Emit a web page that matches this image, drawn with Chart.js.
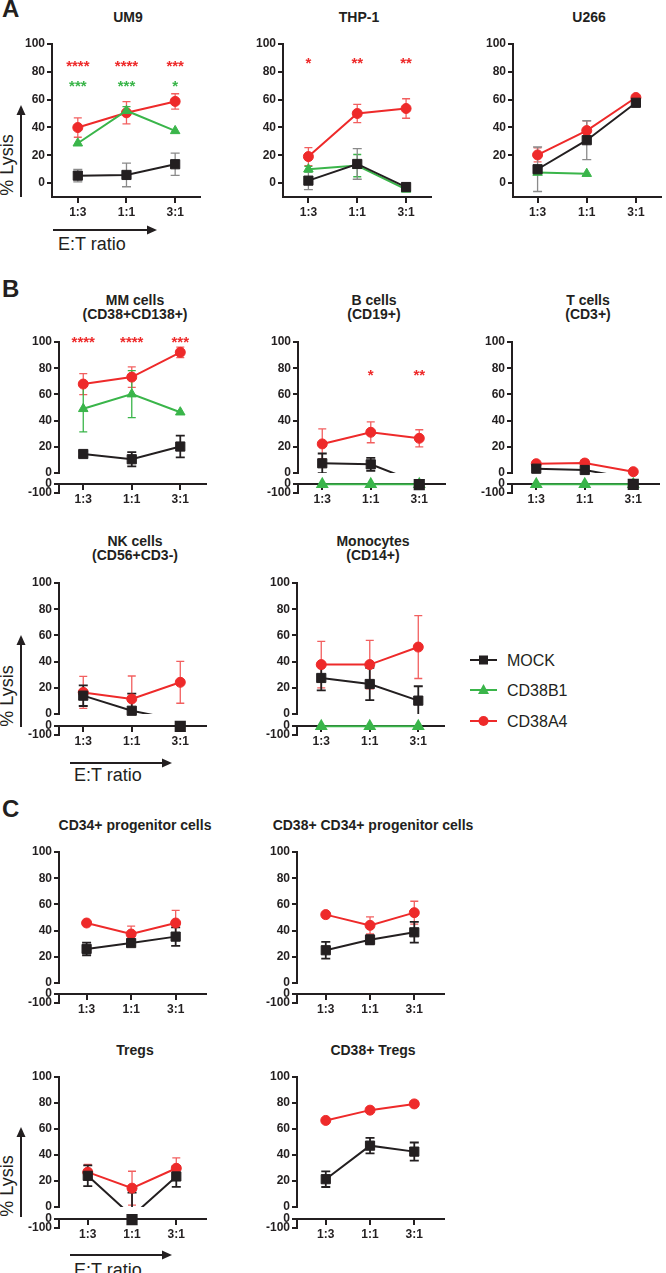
<!DOCTYPE html>
<html>
<head>
<meta charset="utf-8">
<script src="https://cdn.jsdelivr.net/npm/chart.js@4.4.0/dist/chart.umd.min.js"></script>
<style>
  html, body { margin: 0; padding: 0; background: #fff; }
  body { position: relative; width: 666px; height: 1273px; overflow: hidden; }
  canvas { position: absolute; }
  #overlay { position: absolute; left: 0; top: 0; pointer-events: none; }
</style>
</head>
<body>
<svg id="overlay" width="666" height="1273"></svg>
<script>
const ratios = ['1:3', '1:1', '3:1'];

// A - cell lines
const um9Mock = [5.3, 5.8, 13.5];
const um9MockSd = [4.5, 8.5, 8];
const um9B1 = [28.6, 52, 37.5];
const um9B1Sd = [0, 3, 0];
const um9A4 = [39.9, 50.5, 58.7];
const um9A4Sd = [7, 8, 5.5];
const um9StarsA4 = ['****', '****', '***'];
const um9StarsB1 = ['***', '***', '*'];

const thpMock = [1.7, 13.7, -2.9];
const thpMockSd = [6.5, 11, 3];
const thpB1 = [9.9, 12.5, -4.6];
const thpB1Sd = [2, 8, 1];
const thpA4 = [19, 50, 53.6];
const thpA4Sd = [6.5, 6.5, 7];
const thpStarsA4 = ['*', '**', '**'];

const u266Mock = [9.9, 30.8, 57.7];
const u266MockSd = [16, 14, 0];
const u266B1 = [7.5, 6.7, null];
const u266B1Sd = [0, 0, 0];
const u266A4 = [20.2, 37.7, 61.5];
const u266A4Sd = [5, 7, 0];

// B - primary cells
const mmMock = [14.5, 10.5, 20.2];
const mmMockSd = [2, 5.4, 8.3];
const mmB1 = [49, 60.2, 46.4];
const mmB1Sd = [17.6, 18, 0];
const mmA4 = [67.9, 73.2, 92.1];
const mmA4Sd = [8, 7.8, 4];
const mmStarsA4 = ['****', '****', '***'];

const bMock = [7.4, 6.6, -7.7];
const bMockSd = [7.5, 5, 0];
const bB1 = [-2, -2, -2];
const bB1Sd = [0, 0, 0];
const bA4 = [22.2, 31.1, 26.5];
const bA4Sd = [11.5, 8, 6.5];
const bStarsA4 = ['', '*', '**'];

const tMock = [3.3, 2.3, -4.5];
const tMockSd = [0, 0, 0];
const tB1 = [-2, -2, -2];
const tB1Sd = [0, 0, 0];
const tA4 = [7.1, 7.6, 1.0];
const tA4Sd = [0, 2.5, 0];

const nkMock = [14, 2.5, -5];
const nkMockSd = [7.9, 13, 0];
const nkA4 = [16.5, 11.5, 24.2];
const nkA4Sd = [12.2, 17.5, 16];

const monoMock = [27.5, 22.9, 10.2];
const monoMockSd = [9.5, 12.3, 11];
const monoB1 = [-2, -2, -2];
const monoB1Sd = [0, 0, 0];
const monoA4 = [37.7, 37.7, 51.1];
const monoA4Sd = [17.7, 18.5, 24];

// C - progenitors and Tregs
const cd34Mock = [26, 30.5, 35.4];
const cd34MockSd = [4.8, 2, 7];
const cd34A4 = [45.8, 37.4, 45.8];
const cd34A4Sd = [0, 6, 9.6];

const cd38cd34Mock = [25, 33, 38.7];
const cd38cd34MockSd = [6.4, 3.5, 7.9];
const cd38cd34A4 = [52.2, 44, 53.7];
const cd38cd34A4Sd = [0, 6.5, 8.7];

const tregMock = [24, -7, 23.5];
const tregMockSd = [8, 18, 8];
const tregA4 = [26.8, 14.5, 29.8];
const tregA4Sd = [6, 13, 8];

const cd38tregMock = [21.4, 47.2, 42.6];
const cd38tregMockSd = [6, 6, 7];
const cd38tregA4 = [66.6, 74.5, 79.3];
const cd38tregA4Sd = [0, 0, 0];

const INK = '#231f20';
const FONT = '"Liberation Sans", Arial, Helvetica, sans-serif';

const MOCK = { label: 'MOCK', color: INK, err: INK, style: 'rect', radius: 6.5, rank: 0 };
const B1 = { label: 'CD38B1', color: '#3ab54a', err: '#3ab54a', style: 'triangle', radius: 5.5, rank: 1 };
const A4 = { label: 'CD38A4', color: '#ee2a2a', err: 'rgba(238,42,42,0.75)', style: 'circle', radius: 5, rank: 2 };

const AXIS_W = 45, PAD_TOP = 22, PAD_BOTTOM = 26, PAD_RIGHT = 3, X_LEN = 152;

const panels = [
  { id: 'um9', title: ['UM9'], axisX: 52, y100: 44, y0: 183, yX: 197, xr: [-0.53, 2.5], mockErr: '#8a8a8a',
    series: [[A4, um9A4, um9A4Sd], [B1, um9B1, um9B1Sd], [MOCK, um9Mock, um9MockSd]],
    stars: [[A4, um9StarsA4, 87], [B1, um9StarsB1, 73]] },
  { id: 'thp', title: ['THP-1'], axisX: 283, y100: 44, y0: 183, yX: 197, xr: [-0.52, 2.5], mockErr: '#8a8a8a',
    series: [[A4, thpA4, thpA4Sd], [B1, thpB1, thpB1Sd], [MOCK, thpMock, thpMockSd]],
    stars: [[A4, thpStarsA4, 89]] },
  { id: 'u266', title: ['U266'], axisX: 513, y100: 44, y0: 183, yX: 197, xr: [-0.5, 2.5], mockErr: '#8a8a8a',
    series: [[A4, u266A4, u266A4Sd], [B1, u266B1, u266B1Sd], [MOCK, u266Mock, u266MockSd]],
    stars: [] },
  { id: 'mm', title: ['MM cells', '(CD38+CD138+)'], axisX: 59, y100: 342, y0: 473, yX: 484, yMin: 493, xr: [-0.5, 2.52],
    series: [[A4, mmA4, mmA4Sd], [B1, mmB1, mmB1Sd], [MOCK, mmMock, mmMockSd]],
    stars: [[A4, mmStarsA4, 103]] },
  { id: 'bcell', title: ['B cells', '(CD19+)'], axisX: 298, y100: 342, y0: 473, yX: 484, yMin: 493, xr: [-0.5, 2.52],
    series: [[A4, bA4, bA4Sd], [B1, bB1, bB1Sd], [MOCK, bMock, bMockSd]],
    stars: [[A4, bStarsA4, 78]] },
  { id: 'tcell', title: ['T cells', '(CD3+)'], axisX: 512, y100: 342, y0: 473, yX: 484, yMin: 493, xr: [-0.5, 2.52],
    series: [[A4, tA4, tA4Sd], [B1, tB1, tB1Sd], [MOCK, tMock, tMockSd]],
    stars: [] },
  { id: 'nk', title: ['NK cells', '(CD56+CD3-)'], axisX: 59, y100: 583, y0: 714, yX: 726, yMin: 735, xr: [-0.5, 2.52],
    series: [[A4, nkA4, nkA4Sd], [MOCK, nkMock, nkMockSd]],
    stars: [] },
  { id: 'mono', title: ['Monocytes', '(CD14+)'], axisX: 297, y100: 583, y0: 714, yX: 726, yMin: 735, xr: [-0.5, 2.52],
    series: [[A4, monoA4, monoA4Sd], [B1, monoB1, monoB1Sd], [MOCK, monoMock, monoMockSd]],
    stars: [] },
  { id: 'cd34', title: ['CD34+ progenitor cells'], axisX: 59, y100: 852, y0: 983, yX: 994, yMin: 1003, xr: [-0.62, 2.67],
    series: [[A4, cd34A4, cd34A4Sd], [MOCK, cd34Mock, cd34MockSd]],
    stars: [] },
  { id: 'cd38cd34', title: ['CD38+ CD34+ progenitor cells'], axisX: 297, y100: 852, y0: 983, yX: 994, yMin: 1003, xr: [-0.65, 2.66],
    series: [[A4, cd38cd34A4, cd38cd34A4Sd], [MOCK, cd38cd34Mock, cd38cd34MockSd]],
    stars: [] },
  { id: 'treg', title: ['Tregs'], axisX: 59, y100: 1077, y0: 1207, yX: 1219, yMin: 1228, xr: [-0.65, 2.66],
    series: [[A4, tregA4, tregA4Sd], [MOCK, tregMock, tregMockSd]],
    stars: [] },
  { id: 'cd38treg', title: ['CD38+ Tregs'], axisX: 297, y100: 1077, y0: 1207, yX: 1219, yMin: 1228, xr: [-0.65, 2.66],
    series: [[A4, cd38tregA4, cd38tregA4Sd], [MOCK, cd38tregMock, cd38tregMockSd]],
    stars: [] },
];

function addPanel(p) {
  const broken = p.yMin != null;
  const ppu = (p.y0 - p.y100) / 100;
  const gap = (p.yX - p.y0) / ppu;
  const low = broken ? (p.yMin - p.yX) / ppu : 0;
  const yLowest = -(gap + low);
  const lowerVal = v => -gap + v * low / 100;
  const yTicks = broken ? [yLowest, -gap, 0, 20, 40, 60, 80, 100] : [0, 20, 40, 60, 80, 100];
  const yLabels = broken ? ['-100', '0', '0', '20', '40', '60', '80', '100'] : ['0', '20', '40', '60', '80', '100'];

  const canvas = document.createElement('canvas');
  const plotH = Math.round((broken ? p.yMin : p.yX) - p.y100);
  canvas.width = AXIS_W + X_LEN + PAD_RIGHT;
  canvas.height = PAD_TOP + plotH + PAD_BOTTOM;
  canvas.style.left = (p.axisX - AXIS_W) + 'px';
  canvas.style.top = (p.y100 - PAD_TOP) + 'px';
  document.body.appendChild(canvas);

  const datasets = [];
  p.series.forEach(([s, vals]) => {
    const r = s.rank;
    // connecting line, clipped to the upper segment
    datasets.push({
      data: vals.map((v, i) => ({ x: i, y: v })),
      borderColor: s.color, borderWidth: 2, pointRadius: 0, order: r * 3 + 2,
      clipUpper: broken
    });
    // markers in the upper segment
    datasets.push({
      data: vals.map((v, i) => ({ x: i, y: (v == null || (broken && v < 0)) ? null : v })),
      showLine: false, pointStyle: s.style, pointRadius: s.radius,
      backgroundColor: s.color, borderColor: s.color, borderWidth: 1, order: r * 3, clip: false
    });
    // values below zero go to the squeezed lower segment
    if (broken) {
      datasets.push({
        data: vals.map((v, i) => ({ x: i, y: (v != null && v < 0) ? lowerVal(v) : null })),
        borderColor: s.color, borderWidth: 2, pointStyle: s.style, pointRadius: s.radius,
        backgroundColor: s.color, order: r * 3 + 1, clip: false
      });
    }
  });

  const deco = {
    id: 'deco_' + p.id,
    beforeDatasetsDraw(chart) {
      const { ctx, chartArea: a } = chart;
      const xs = chart.scales.x, ys = chart.scales.y;
      ctx.save();
      ctx.strokeStyle = INK;
      ctx.lineWidth = 2;
      const segs = broken ? [[0, 100], [yLowest, -gap]] : [[yLowest, 100]];
      segs.forEach(([lo, hi]) => {
        ctx.beginPath();
        ctx.moveTo(a.left, ys.getPixelForValue(lo) + 1);
        ctx.lineTo(a.left, ys.getPixelForValue(hi) - 1);
        ctx.stroke();
      });
      ctx.restore();

      // error bars
      ctx.save();
      ctx.beginPath();
      ctx.rect(a.left, 0, a.right - a.left, broken ? ys.getPixelForValue(0) : a.bottom);
      ctx.clip();
      p.series.forEach(([s, vals, sds]) => {
        vals.forEach((v, i) => {
          const sd = sds[i];
          if (v == null || !sd) return;
          const x = xs.getPixelForValue(i);
          const yHi = ys.getPixelForValue(v + sd);
          const yLo = ys.getPixelForValue(v - sd);
          const cap = s === MOCK ? 4.5 : 4;
          ctx.strokeStyle = s === MOCK ? (p.mockErr || s.err) : s.err;
          ctx.lineWidth = s === MOCK && !p.mockErr ? 1.8 : 1.3;
          ctx.beginPath();
          ctx.moveTo(x, yHi); ctx.lineTo(x, yLo);
          ctx.moveTo(x - cap, yHi); ctx.lineTo(x + cap, yHi);
          ctx.moveTo(x - cap, yLo); ctx.lineTo(x + cap, yLo);
          ctx.stroke();
        });
      });
      ctx.restore();
    },
    beforeDatasetDraw(chart, args) {
      const ds = chart.data.datasets[args.index];
      if (!ds.clipUpper) return;
      const a = chart.chartArea;
      chart.ctx.save();
      chart.ctx.beginPath();
      chart.ctx.rect(a.left, 0, a.right - a.left, chart.scales.y.getPixelForValue(0));
      chart.ctx.clip();
    },
    afterDatasetDraw(chart, args) {
      if (chart.data.datasets[args.index].clipUpper) chart.ctx.restore();
    },
    afterDatasetsDraw(chart) {
      const { ctx } = chart;
      const xs = chart.scales.x, ys = chart.scales.y;
      ctx.save();
      ctx.font = 'bold 15px ' + FONT;
      ctx.textAlign = 'center';
      ctx.textBaseline = 'alphabetic';
      p.stars.forEach(([s, marks, level]) => {
        ctx.fillStyle = s.color;
        marks.forEach((m, i) => {
          if (m) ctx.fillText(m, xs.getPixelForValue(i), ys.getPixelForValue(level) + 9);
        });
      });
      ctx.restore();
    }
  };

  const tickFont = { family: FONT, size: 12, weight: 'bold' };

  new Chart(canvas, {
    type: 'line',
    data: { datasets },
    options: {
      responsive: false,
      animation: false,
      events: [],
      devicePixelRatio: 1,
      layout: { padding: { left: 0, right: PAD_RIGHT, top: PAD_TOP, bottom: PAD_BOTTOM } },
      plugins: { legend: { display: false }, tooltip: { enabled: false } },
      scales: {
        x: {
          type: 'linear', min: p.xr[0], max: p.xr[1], position: { y: -gap },
          afterBuildTicks: sc => { sc.ticks = ratios.map((_, i) => ({ value: i })); },
          ticks: { callback: v => ratios[v], autoSkip: false, maxRotation: 0, padding: 3, color: INK, font: tickFont },
          grid: { drawOnChartArea: false, drawTicks: true, tickLength: 5, lineWidth: 2, color: INK },
          border: { display: true, width: 2, color: INK }
        },
        y: {
          type: 'linear', min: yLowest, max: 100,
          afterBuildTicks: sc => { sc.ticks = yTicks.map(v => ({ value: v })); },
          afterFit: sc => { sc.width = AXIS_W; },
          ticks: { callback: (v, i) => yLabels[i], autoSkip: false, padding: 2, color: INK, font: tickFont },
          grid: { drawOnChartArea: false, drawTicks: true, tickLength: 5, lineWidth: 2, color: INK },
          border: { display: false }
        }
      }
    },
    plugins: [deco]
  });
}

panels.forEach(addPanel);

// titles, section letters, axis captions, arrows and legend
const svg = document.getElementById('overlay');
let out = '';
const txt = (x, y, s, size, weight, anchor, extra) =>
  `<text x="${x}" y="${y}" font-family='${FONT}' font-size="${size}" font-weight="${weight}" fill="${INK}" text-anchor="${anchor}" ${extra || ''}>${s}</text>`;

panels.forEach(p => {
  const cx = p.axisX + 76;
  if (p.title.length === 1) {
    out += txt(cx, p.y100 - 27 + 5, p.title[0], 14, 'bold', 'middle');
  } else {
    out += txt(cx, p.y100 - 41.75 + 5, p.title[0], 14, 'bold', 'middle');
    out += txt(cx, p.y100 - 28.25 + 5, p.title[1], 14, 'bold', 'middle');
  }
});

out += txt(2, 17, 'A', 24, 'bold', 'start');
out += txt(2, 297, 'B', 24, 'bold', 'start');
out += txt(2, 817, 'C', 24, 'bold', 'start');

const arrowUp = (x, y1, y2) =>
  `<line x1="${x}" y1="${y1}" x2="${x}" y2="${y2 + 9}" stroke="${INK}" stroke-width="2"/>` +
  `<polygon points="${x - 4.5},${y2 + 10} ${x + 4.5},${y2 + 10} ${x},${y2}" fill="${INK}"/>`;
const arrowRight = (y, x1, x2) =>
  `<line x1="${x1}" y1="${y}" x2="${x2 - 9}" y2="${y}" stroke="${INK}" stroke-width="2"/>` +
  `<polygon points="${x2 - 10},${y - 4.5} ${x2 - 10},${y + 4.5} ${x2},${y}" fill="${INK}"/>`;

[[165, 197, 105, 230, 53, 157, 58, 250],
 [696, 727, 635, 763, 70, 172, 74, 781],
 [1186, 1217, 1127, 1255, 70, 172, 74, 1276]].forEach(([cy, ay1, ay2, hy, hx1, hx2, tx, ty]) => {
  out += txt(0, 0, '% Lysis', 18, 'normal', 'middle', `transform="translate(13,${cy}) rotate(-90)"`);
  out += arrowUp(21, ay1, ay2);
  out += arrowRight(hy, hx1, hx2);
  out += txt(tx, ty, 'E:T ratio', 18, 'normal', 'start');
});

[[MOCK, 660], [B1, 690], [A4, 721]].forEach(([s, y]) => {
  out += `<line x1="470" y1="${y}" x2="497" y2="${y}" stroke="${s.color}" stroke-width="2"/>`;
  if (s.style === 'rect') out += `<rect x="479" y="${y - 4.5}" width="9" height="9" fill="${s.color}"/>`;
  if (s.style === 'triangle') out += `<polygon points="478,${y + 4} 489,${y + 4} 483.5,${y - 6}" fill="${s.color}"/>`;
  if (s.style === 'circle') out += `<circle cx="483.5" cy="${y}" r="5" fill="${s.color}"/>`;
  out += txt(507, y + 6, s.label, 16, 'normal', 'start');
});

svg.innerHTML = out;
</script>
</body>
</html>
